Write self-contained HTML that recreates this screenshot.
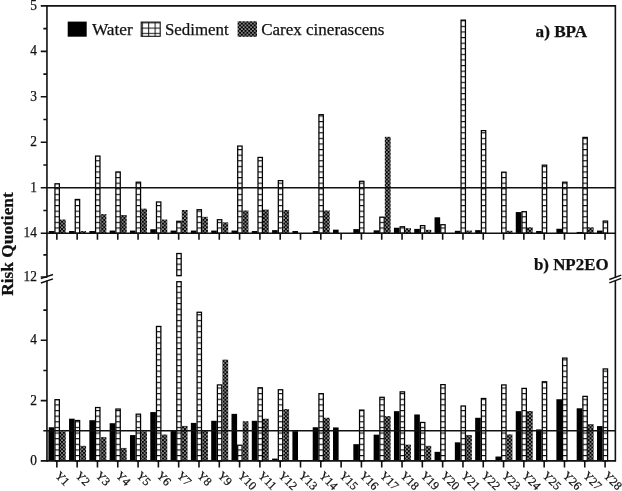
<!DOCTYPE html>
<html><head><meta charset="utf-8"><title>Risk Quotient</title>
<style>html,body{margin:0;padding:0;background:#fff}body{width:622px;height:491px;overflow:hidden}</style></head>
<body>
<svg width="622" height="491" viewBox="0 0 622 491" style="display:block">
<defs>
<pattern id="sedT" patternUnits="userSpaceOnUse" x="0" y="3.42" width="40" height="5.6"><rect width="40" height="5.6" fill="#fff"/><rect y="0" width="40" height="1.15" fill="#111"/></pattern>
<pattern id="sedB" patternUnits="userSpaceOnUse" x="0" y="4.62" width="40" height="5.63"><rect width="40" height="5.63" fill="#fff"/><rect y="0" width="40" height="1.15" fill="#111"/></pattern>
<pattern id="cx" patternUnits="userSpaceOnUse" x="0.55" y="0.6" width="3.67" height="3.67"><rect width="3.67" height="3.67" fill="#000"/><circle cx="0.92" cy="0.92" r="0.78" fill="#fff"/><circle cx="2.75" cy="2.75" r="0.78" fill="#fff"/></pattern>
<pattern id="lgSed" patternUnits="userSpaceOnUse" x="141.8" y="22.4" width="6.4" height="5.2"><rect width="6.4" height="5.2" fill="#fff"/><rect width="6.4" height="1" fill="#111"/><rect width="1" height="5.2" fill="#111"/></pattern>
</defs>
<rect width="622" height="491" fill="#fff"/>
<rect x="47.7" y="431" width="1.3" height="29.5" fill="#888"/>
<rect x="48.75" y="231.04" width="5.60" height="2.16" fill="#000"/>
<rect x="54.95" y="183.79" width="4.40" height="49.41" fill="url(#sedT)" stroke="#000" stroke-width="1.25"/>
<rect x="59.95" y="219.56" width="5.80" height="13.64" fill="url(#cx)"/>
<rect x="69.06" y="231.04" width="5.60" height="2.16" fill="#000"/>
<rect x="75.25" y="199.48" width="4.40" height="33.72" fill="url(#sedT)" stroke="#000" stroke-width="1.25"/>
<rect x="80.25" y="231.04" width="5.80" height="2.16" fill="url(#cx)"/>
<rect x="89.36" y="231.04" width="5.60" height="2.16" fill="#000"/>
<rect x="95.56" y="156.06" width="4.40" height="77.14" fill="url(#sedT)" stroke="#000" stroke-width="1.25"/>
<rect x="100.56" y="214.11" width="5.80" height="19.09" fill="url(#cx)"/>
<rect x="109.66" y="230.58" width="5.60" height="2.62" fill="#000"/>
<rect x="115.86" y="171.97" width="4.40" height="61.23" fill="url(#sedT)" stroke="#000" stroke-width="1.25"/>
<rect x="120.86" y="215.02" width="5.80" height="18.18" fill="url(#cx)"/>
<rect x="129.97" y="230.58" width="5.60" height="2.62" fill="#000"/>
<rect x="136.17" y="182.20" width="4.40" height="51.00" fill="url(#sedT)" stroke="#000" stroke-width="1.25"/>
<rect x="141.17" y="208.65" width="5.80" height="24.55" fill="url(#cx)"/>
<rect x="150.28" y="229.22" width="5.60" height="3.98" fill="#000"/>
<rect x="156.47" y="201.98" width="4.40" height="31.22" fill="url(#sedT)" stroke="#000" stroke-width="1.25"/>
<rect x="161.48" y="219.56" width="5.80" height="13.64" fill="url(#cx)"/>
<rect x="170.58" y="230.58" width="5.60" height="2.62" fill="#000"/>
<rect x="176.78" y="221.30" width="4.40" height="11.90" fill="url(#sedT)" stroke="#000" stroke-width="1.25"/>
<rect x="181.78" y="210.02" width="5.80" height="23.18" fill="url(#cx)"/>
<rect x="190.88" y="230.58" width="5.60" height="2.62" fill="#000"/>
<rect x="197.08" y="209.71" width="4.40" height="23.49" fill="url(#sedT)" stroke="#000" stroke-width="1.25"/>
<rect x="202.09" y="216.83" width="5.80" height="16.37" fill="url(#cx)"/>
<rect x="211.19" y="230.58" width="5.60" height="2.62" fill="#000"/>
<rect x="217.39" y="219.71" width="4.40" height="13.49" fill="url(#sedT)" stroke="#000" stroke-width="1.25"/>
<rect x="222.39" y="222.29" width="5.80" height="10.91" fill="url(#cx)"/>
<rect x="231.50" y="230.58" width="5.60" height="2.62" fill="#000"/>
<rect x="237.69" y="146.06" width="4.40" height="87.14" fill="url(#sedT)" stroke="#000" stroke-width="1.25"/>
<rect x="242.70" y="210.47" width="5.80" height="22.73" fill="url(#cx)"/>
<rect x="251.80" y="231.04" width="5.60" height="2.16" fill="#000"/>
<rect x="258.00" y="157.43" width="4.40" height="75.77" fill="url(#sedT)" stroke="#000" stroke-width="1.25"/>
<rect x="263.00" y="209.56" width="5.80" height="23.64" fill="url(#cx)"/>
<rect x="272.11" y="230.13" width="5.60" height="3.07" fill="#000"/>
<rect x="278.31" y="180.61" width="4.40" height="52.59" fill="url(#sedT)" stroke="#000" stroke-width="1.25"/>
<rect x="283.31" y="210.02" width="5.80" height="23.18" fill="url(#cx)"/>
<rect x="292.41" y="231.04" width="5.60" height="2.16" fill="#000"/>
<rect x="312.72" y="231.04" width="5.60" height="2.16" fill="#000"/>
<rect x="318.92" y="114.69" width="4.40" height="118.51" fill="url(#sedT)" stroke="#000" stroke-width="1.25"/>
<rect x="323.92" y="210.47" width="5.80" height="22.73" fill="url(#cx)"/>
<rect x="333.02" y="229.67" width="5.60" height="3.53" fill="#000"/>
<rect x="353.33" y="229.11" width="5.60" height="4.09" fill="#000"/>
<rect x="359.53" y="181.29" width="4.40" height="51.91" fill="url(#sedT)" stroke="#000" stroke-width="1.25"/>
<rect x="373.63" y="230.35" width="5.60" height="2.85" fill="#000"/>
<rect x="379.83" y="217.16" width="4.40" height="16.04" fill="url(#sedT)" stroke="#000" stroke-width="1.25"/>
<rect x="384.83" y="136.82" width="5.80" height="96.38" fill="url(#cx)"/>
<rect x="393.94" y="227.74" width="5.60" height="5.46" fill="#000"/>
<rect x="400.14" y="226.75" width="4.40" height="6.45" fill="url(#sedT)" stroke="#000" stroke-width="1.25"/>
<rect x="405.14" y="228.20" width="5.80" height="5.00" fill="url(#cx)"/>
<rect x="414.24" y="228.90" width="5.60" height="4.30" fill="#000"/>
<rect x="420.44" y="225.62" width="4.40" height="7.58" fill="url(#sedT)" stroke="#000" stroke-width="1.25"/>
<rect x="425.44" y="229.85" width="5.80" height="3.35" fill="url(#cx)"/>
<rect x="434.55" y="217.29" width="5.60" height="15.91" fill="#000"/>
<rect x="440.75" y="224.71" width="4.40" height="8.49" fill="url(#sedT)" stroke="#000" stroke-width="1.25"/>
<rect x="454.85" y="230.81" width="5.60" height="2.39" fill="#000"/>
<rect x="461.05" y="20.14" width="4.40" height="213.06" fill="url(#sedT)" stroke="#000" stroke-width="1.25"/>
<rect x="466.05" y="230.58" width="5.80" height="2.62" fill="url(#cx)"/>
<rect x="475.16" y="230.13" width="5.60" height="3.07" fill="#000"/>
<rect x="481.36" y="130.61" width="4.40" height="102.59" fill="url(#sedT)" stroke="#000" stroke-width="1.25"/>
<rect x="501.66" y="172.20" width="4.40" height="61.00" fill="url(#sedT)" stroke="#000" stroke-width="1.25"/>
<rect x="506.66" y="230.81" width="5.80" height="2.39" fill="url(#cx)"/>
<rect x="515.76" y="212.06" width="5.60" height="21.14" fill="#000"/>
<rect x="521.97" y="211.71" width="4.40" height="21.49" fill="url(#sedT)" stroke="#000" stroke-width="1.25"/>
<rect x="526.96" y="227.29" width="5.80" height="5.91" fill="url(#cx)"/>
<rect x="536.07" y="231.04" width="5.60" height="2.16" fill="#000"/>
<rect x="542.27" y="165.16" width="4.40" height="68.04" fill="url(#sedT)" stroke="#000" stroke-width="1.25"/>
<rect x="556.38" y="228.76" width="5.60" height="4.44" fill="#000"/>
<rect x="562.58" y="182.20" width="4.40" height="51.00" fill="url(#sedT)" stroke="#000" stroke-width="1.25"/>
<rect x="576.68" y="231.95" width="5.60" height="1.25" fill="#000"/>
<rect x="582.88" y="137.42" width="4.40" height="95.78" fill="url(#sedT)" stroke="#000" stroke-width="1.25"/>
<rect x="587.88" y="227.29" width="5.80" height="5.91" fill="url(#cx)"/>
<rect x="596.99" y="230.58" width="5.60" height="2.62" fill="#000"/>
<rect x="603.19" y="221.07" width="4.40" height="12.13" fill="url(#sedT)" stroke="#000" stroke-width="1.25"/>
<rect x="48.75" y="427.25" width="5.60" height="33.65" fill="#000"/>
<rect x="54.95" y="399.69" width="4.40" height="61.21" fill="url(#sedB)" stroke="#000" stroke-width="1.25"/>
<rect x="59.95" y="431.35" width="5.80" height="29.55" fill="url(#cx)"/>
<rect x="69.06" y="418.69" width="5.60" height="42.21" fill="#000"/>
<rect x="75.25" y="420.50" width="4.40" height="40.40" fill="url(#sedB)" stroke="#000" stroke-width="1.25"/>
<rect x="80.25" y="445.82" width="5.80" height="15.07" fill="url(#cx)"/>
<rect x="89.36" y="420.20" width="5.60" height="40.70" fill="#000"/>
<rect x="95.56" y="407.53" width="4.40" height="53.37" fill="url(#sedB)" stroke="#000" stroke-width="1.25"/>
<rect x="100.56" y="437.08" width="5.80" height="23.82" fill="url(#cx)"/>
<rect x="109.66" y="423.21" width="5.60" height="37.69" fill="#000"/>
<rect x="115.86" y="409.04" width="4.40" height="51.86" fill="url(#sedB)" stroke="#000" stroke-width="1.25"/>
<rect x="120.86" y="447.94" width="5.80" height="12.96" fill="url(#cx)"/>
<rect x="129.97" y="435.09" width="5.60" height="25.81" fill="#000"/>
<rect x="136.17" y="414.16" width="4.40" height="46.74" fill="url(#sedB)" stroke="#000" stroke-width="1.25"/>
<rect x="141.17" y="431.35" width="5.80" height="29.55" fill="url(#cx)"/>
<rect x="150.28" y="412.06" width="5.60" height="48.84" fill="#000"/>
<rect x="156.47" y="326.43" width="4.40" height="134.47" fill="url(#sedB)" stroke="#000" stroke-width="1.25"/>
<rect x="161.48" y="434.52" width="5.80" height="26.38" fill="url(#cx)"/>
<rect x="170.58" y="431.05" width="5.60" height="29.85" fill="#000"/>
<rect x="176.78" y="281.70" width="4.40" height="179.20" fill="url(#sedB)" stroke="#000" stroke-width="1.25"/>
<rect x="176.78" y="253.51" width="4.40" height="22.19" fill="url(#sedB)" stroke="#000" stroke-width="1.25"/>
<rect x="181.78" y="425.93" width="5.80" height="34.97" fill="url(#cx)"/>
<rect x="190.88" y="422.91" width="5.60" height="37.99" fill="#000"/>
<rect x="197.08" y="312.26" width="4.40" height="148.64" fill="url(#sedB)" stroke="#000" stroke-width="1.25"/>
<rect x="202.09" y="430.15" width="5.80" height="30.75" fill="url(#cx)"/>
<rect x="211.19" y="420.80" width="5.60" height="40.10" fill="#000"/>
<rect x="217.39" y="384.92" width="4.40" height="75.98" fill="url(#sedB)" stroke="#000" stroke-width="1.25"/>
<rect x="222.39" y="359.60" width="5.80" height="101.30" fill="url(#cx)"/>
<rect x="231.50" y="413.87" width="5.60" height="47.03" fill="#000"/>
<rect x="237.69" y="445.22" width="4.40" height="15.68" fill="url(#sedB)" stroke="#000" stroke-width="1.25"/>
<rect x="242.70" y="421.25" width="5.80" height="39.65" fill="url(#cx)"/>
<rect x="251.80" y="420.80" width="5.60" height="40.10" fill="#000"/>
<rect x="258.00" y="387.78" width="4.40" height="73.12" fill="url(#sedB)" stroke="#000" stroke-width="1.25"/>
<rect x="263.00" y="418.69" width="5.80" height="42.21" fill="url(#cx)"/>
<rect x="272.11" y="458.59" width="5.60" height="2.31" fill="#000"/>
<rect x="278.31" y="389.74" width="4.40" height="71.16" fill="url(#sedB)" stroke="#000" stroke-width="1.25"/>
<rect x="283.31" y="409.04" width="5.80" height="51.86" fill="url(#cx)"/>
<rect x="292.41" y="431.17" width="5.60" height="29.73" fill="#000"/>
<rect x="312.72" y="427.25" width="5.60" height="33.65" fill="#000"/>
<rect x="318.92" y="393.66" width="4.40" height="67.24" fill="url(#sedB)" stroke="#000" stroke-width="1.25"/>
<rect x="323.92" y="417.79" width="5.80" height="43.11" fill="url(#cx)"/>
<rect x="333.02" y="427.43" width="5.60" height="33.47" fill="#000"/>
<rect x="353.33" y="444.17" width="5.60" height="16.73" fill="#000"/>
<rect x="359.53" y="410.09" width="4.40" height="50.81" fill="url(#sedB)" stroke="#000" stroke-width="1.25"/>
<rect x="373.63" y="434.67" width="5.60" height="26.23" fill="#000"/>
<rect x="379.83" y="397.28" width="4.40" height="63.62" fill="url(#sedB)" stroke="#000" stroke-width="1.25"/>
<rect x="384.83" y="416.10" width="5.80" height="44.80" fill="url(#cx)"/>
<rect x="393.94" y="411.15" width="5.60" height="49.75" fill="#000"/>
<rect x="400.14" y="391.85" width="4.40" height="69.05" fill="url(#sedB)" stroke="#000" stroke-width="1.25"/>
<rect x="405.14" y="444.62" width="5.80" height="16.28" fill="url(#cx)"/>
<rect x="414.24" y="414.47" width="5.60" height="46.43" fill="#000"/>
<rect x="420.44" y="422.46" width="4.40" height="38.44" fill="url(#sedB)" stroke="#000" stroke-width="1.25"/>
<rect x="425.44" y="445.82" width="5.80" height="15.07" fill="url(#cx)"/>
<rect x="434.55" y="451.85" width="5.60" height="9.04" fill="#000"/>
<rect x="440.75" y="384.62" width="4.40" height="76.28" fill="url(#sedB)" stroke="#000" stroke-width="1.25"/>
<rect x="454.85" y="442.33" width="5.60" height="18.57" fill="#000"/>
<rect x="461.05" y="406.02" width="4.40" height="54.88" fill="url(#sedB)" stroke="#000" stroke-width="1.25"/>
<rect x="466.05" y="434.97" width="5.80" height="25.93" fill="url(#cx)"/>
<rect x="475.16" y="417.79" width="5.60" height="43.11" fill="#000"/>
<rect x="481.36" y="398.49" width="4.40" height="62.41" fill="url(#sedB)" stroke="#000" stroke-width="1.25"/>
<rect x="495.46" y="456.53" width="5.60" height="4.37" fill="#000"/>
<rect x="501.66" y="384.92" width="4.40" height="75.98" fill="url(#sedB)" stroke="#000" stroke-width="1.25"/>
<rect x="506.66" y="434.37" width="5.80" height="26.53" fill="url(#cx)"/>
<rect x="515.76" y="411.15" width="5.60" height="49.75" fill="#000"/>
<rect x="521.97" y="388.39" width="4.40" height="72.51" fill="url(#sedB)" stroke="#000" stroke-width="1.25"/>
<rect x="526.96" y="411.00" width="5.80" height="49.90" fill="url(#cx)"/>
<rect x="536.07" y="429.39" width="5.60" height="31.51" fill="#000"/>
<rect x="542.27" y="381.75" width="4.40" height="79.15" fill="url(#sedB)" stroke="#000" stroke-width="1.25"/>
<rect x="556.38" y="399.24" width="5.60" height="61.66" fill="#000"/>
<rect x="562.58" y="358.09" width="4.40" height="102.81" fill="url(#sedB)" stroke="#000" stroke-width="1.25"/>
<rect x="576.68" y="408.29" width="5.60" height="52.61" fill="#000"/>
<rect x="582.88" y="396.38" width="4.40" height="64.52" fill="url(#sedB)" stroke="#000" stroke-width="1.25"/>
<rect x="587.88" y="424.12" width="5.80" height="36.78" fill="url(#cx)"/>
<rect x="596.99" y="426.08" width="5.60" height="34.82" fill="#000"/>
<rect x="603.19" y="368.94" width="4.40" height="91.96" fill="url(#sedB)" stroke="#000" stroke-width="1.25"/>
<path d="M46.95 5.9 H615.37" stroke="#111" stroke-width="1.6" fill="none"/>
<path d="M46.95 5.1000000000000005 V277.6 M46.95 280.6 V461.7" stroke="#111" stroke-width="1.6" fill="none"/>
<path d="M615.37 5.1000000000000005 V277.6 M615.37 280.8 V461.7" stroke="#111" stroke-width="1.6" fill="none"/>
<path d="M46.95 233.2 H615.37" stroke="#111" stroke-width="1.6" fill="none"/>
<path d="M46.95 460.9 H615.37" stroke="#111" stroke-width="1.6" fill="none"/>
<path d="M46.95 187.74 H615.37" stroke="#111" stroke-width="1.5"/>
<path d="M46.95 430.75 H615.37" stroke="#111" stroke-width="1.5"/>
<path d="M40.75 233.20 H46.95 M43.35 210.47 H46.95 M40.75 187.74 H46.95 M43.35 165.01 H46.95 M40.75 142.28 H46.95 M43.35 119.55 H46.95 M40.75 96.82 H46.95 M43.35 74.09 H46.95 M40.75 51.36 H46.95 M43.35 28.63 H46.95 M40.75 5.90 H46.95 M40.75 460.90 H46.95 M43.35 430.75 H46.95 M40.75 400.60 H46.95 M43.35 370.45 H46.95 M40.75 340.30 H46.95 M43.35 310.15 H46.95 M40.75 277.0 H46.95 M43.35 254.9 H46.95 " stroke="#111" stroke-width="1.6" fill="none"/>
<path d="M40.9 278.6 L53 274.5 M40.9 283.0 L53 278.9 M609.3 279.5 L621.3 275.1 M609.3 282.9 L621.3 278.4" stroke="#111" stroke-width="1.5" fill="none"/>
<path d="M56.85 233.2 v6.6 M56.85 460.9 v6.6 M77.16 233.2 v6.6 M77.16 460.9 v6.6 M97.46 233.2 v6.6 M97.46 460.9 v6.6 M117.77 233.2 v6.6 M117.77 460.9 v6.6 M138.07 233.2 v6.6 M138.07 460.9 v6.6 M158.38 233.2 v6.6 M158.38 460.9 v6.6 M178.68 233.2 v6.6 M178.68 460.9 v6.6 M198.98 233.2 v6.6 M198.98 460.9 v6.6 M219.29 233.2 v6.6 M219.29 460.9 v6.6 M239.59 233.2 v6.6 M239.59 460.9 v6.6 M259.90 233.2 v6.6 M259.90 460.9 v6.6 M280.20 233.2 v6.6 M280.20 460.9 v6.6 M300.51 233.2 v6.6 M300.51 460.9 v6.6 M320.81 233.2 v6.6 M320.81 460.9 v6.6 M341.12 233.2 v6.6 M341.12 460.9 v6.6 M361.43 233.2 v6.6 M361.43 460.9 v6.6 M381.73 233.2 v6.6 M381.73 460.9 v6.6 M402.04 233.2 v6.6 M402.04 460.9 v6.6 M422.34 233.2 v6.6 M422.34 460.9 v6.6 M442.65 233.2 v6.6 M442.65 460.9 v6.6 M462.95 233.2 v6.6 M462.95 460.9 v6.6 M483.25 233.2 v6.6 M483.25 460.9 v6.6 M503.56 233.2 v6.6 M503.56 460.9 v6.6 M523.87 233.2 v6.6 M523.87 460.9 v6.6 M544.17 233.2 v6.6 M544.17 460.9 v6.6 M564.48 233.2 v6.6 M564.48 460.9 v6.6 M584.78 233.2 v6.6 M584.78 460.9 v6.6 M605.09 233.2 v6.6 M605.09 460.9 v6.6 " stroke="#111" stroke-width="1.6" fill="none"/>
<text x="30.21" y="9.80" font-size="14" textLength="6.68" lengthAdjust="spacingAndGlyphs" font-family="'Liberation Serif', 'Times New Roman', serif" stroke="#111" stroke-width="0.25" fill="#111">5</text>
<text x="30.21" y="55.26" font-size="14" textLength="6.68" lengthAdjust="spacingAndGlyphs" font-family="'Liberation Serif', 'Times New Roman', serif" stroke="#111" stroke-width="0.25" fill="#111">4</text>
<text x="30.21" y="100.72" font-size="14" textLength="6.68" lengthAdjust="spacingAndGlyphs" font-family="'Liberation Serif', 'Times New Roman', serif" stroke="#111" stroke-width="0.25" fill="#111">3</text>
<text x="30.21" y="146.18" font-size="14" textLength="6.68" lengthAdjust="spacingAndGlyphs" font-family="'Liberation Serif', 'Times New Roman', serif" stroke="#111" stroke-width="0.25" fill="#111">2</text>
<text x="30.21" y="191.64" font-size="14" textLength="6.68" lengthAdjust="spacingAndGlyphs" font-family="'Liberation Serif', 'Times New Roman', serif" stroke="#111" stroke-width="0.25" fill="#111">1</text>
<text x="23.53" y="237.10" font-size="14" textLength="13.37" lengthAdjust="spacingAndGlyphs" font-family="'Liberation Serif', 'Times New Roman', serif" stroke="#111" stroke-width="0.25" fill="#111">14</text>
<text x="23.53" y="280.90" font-size="14" textLength="13.37" lengthAdjust="spacingAndGlyphs" font-family="'Liberation Serif', 'Times New Roman', serif" stroke="#111" stroke-width="0.25" fill="#111">12</text>
<text x="30.21" y="344.20" font-size="14" textLength="6.68" lengthAdjust="spacingAndGlyphs" font-family="'Liberation Serif', 'Times New Roman', serif" stroke="#111" stroke-width="0.25" fill="#111">4</text>
<text x="30.21" y="404.50" font-size="14" textLength="6.68" lengthAdjust="spacingAndGlyphs" font-family="'Liberation Serif', 'Times New Roman', serif" stroke="#111" stroke-width="0.25" fill="#111">2</text>
<text x="30.21" y="464.80" font-size="14" textLength="6.68" lengthAdjust="spacingAndGlyphs" font-family="'Liberation Serif', 'Times New Roman', serif" stroke="#111" stroke-width="0.25" fill="#111">0</text>
<text transform="translate(54.45 476.2) rotate(45)" font-size="12" font-family="'Liberation Serif', 'Times New Roman', serif" stroke="#111" stroke-width="0.25" fill="#111">Y1</text>
<text transform="translate(74.75 476.2) rotate(45)" font-size="12" font-family="'Liberation Serif', 'Times New Roman', serif" stroke="#111" stroke-width="0.25" fill="#111">Y2</text>
<text transform="translate(95.06 476.2) rotate(45)" font-size="12" font-family="'Liberation Serif', 'Times New Roman', serif" stroke="#111" stroke-width="0.25" fill="#111">Y3</text>
<text transform="translate(115.36 476.2) rotate(45)" font-size="12" font-family="'Liberation Serif', 'Times New Roman', serif" stroke="#111" stroke-width="0.25" fill="#111">Y4</text>
<text transform="translate(135.67 476.2) rotate(45)" font-size="12" font-family="'Liberation Serif', 'Times New Roman', serif" stroke="#111" stroke-width="0.25" fill="#111">Y5</text>
<text transform="translate(155.97 476.2) rotate(45)" font-size="12" font-family="'Liberation Serif', 'Times New Roman', serif" stroke="#111" stroke-width="0.25" fill="#111">Y6</text>
<text transform="translate(176.28 476.2) rotate(45)" font-size="12" font-family="'Liberation Serif', 'Times New Roman', serif" stroke="#111" stroke-width="0.25" fill="#111">Y7</text>
<text transform="translate(196.58 476.2) rotate(45)" font-size="12" font-family="'Liberation Serif', 'Times New Roman', serif" stroke="#111" stroke-width="0.25" fill="#111">Y8</text>
<text transform="translate(216.89 476.2) rotate(45)" font-size="12" font-family="'Liberation Serif', 'Times New Roman', serif" stroke="#111" stroke-width="0.25" fill="#111">Y9</text>
<text transform="translate(237.19 476.2) rotate(45)" font-size="12" font-family="'Liberation Serif', 'Times New Roman', serif" stroke="#111" stroke-width="0.25" fill="#111">Y10</text>
<text transform="translate(257.50 476.2) rotate(45)" font-size="12" font-family="'Liberation Serif', 'Times New Roman', serif" stroke="#111" stroke-width="0.25" fill="#111">Y11</text>
<text transform="translate(277.81 476.2) rotate(45)" font-size="12" font-family="'Liberation Serif', 'Times New Roman', serif" stroke="#111" stroke-width="0.25" fill="#111">Y12</text>
<text transform="translate(298.11 476.2) rotate(45)" font-size="12" font-family="'Liberation Serif', 'Times New Roman', serif" stroke="#111" stroke-width="0.25" fill="#111">Y13</text>
<text transform="translate(318.42 476.2) rotate(45)" font-size="12" font-family="'Liberation Serif', 'Times New Roman', serif" stroke="#111" stroke-width="0.25" fill="#111">Y14</text>
<text transform="translate(338.72 476.2) rotate(45)" font-size="12" font-family="'Liberation Serif', 'Times New Roman', serif" stroke="#111" stroke-width="0.25" fill="#111">Y15</text>
<text transform="translate(359.03 476.2) rotate(45)" font-size="12" font-family="'Liberation Serif', 'Times New Roman', serif" stroke="#111" stroke-width="0.25" fill="#111">Y16</text>
<text transform="translate(379.33 476.2) rotate(45)" font-size="12" font-family="'Liberation Serif', 'Times New Roman', serif" stroke="#111" stroke-width="0.25" fill="#111">Y17</text>
<text transform="translate(399.64 476.2) rotate(45)" font-size="12" font-family="'Liberation Serif', 'Times New Roman', serif" stroke="#111" stroke-width="0.25" fill="#111">Y18</text>
<text transform="translate(419.94 476.2) rotate(45)" font-size="12" font-family="'Liberation Serif', 'Times New Roman', serif" stroke="#111" stroke-width="0.25" fill="#111">Y19</text>
<text transform="translate(440.25 476.2) rotate(45)" font-size="12" font-family="'Liberation Serif', 'Times New Roman', serif" stroke="#111" stroke-width="0.25" fill="#111">Y20</text>
<text transform="translate(460.55 476.2) rotate(45)" font-size="12" font-family="'Liberation Serif', 'Times New Roman', serif" stroke="#111" stroke-width="0.25" fill="#111">Y21</text>
<text transform="translate(480.86 476.2) rotate(45)" font-size="12" font-family="'Liberation Serif', 'Times New Roman', serif" stroke="#111" stroke-width="0.25" fill="#111">Y22</text>
<text transform="translate(501.16 476.2) rotate(45)" font-size="12" font-family="'Liberation Serif', 'Times New Roman', serif" stroke="#111" stroke-width="0.25" fill="#111">Y23</text>
<text transform="translate(521.47 476.2) rotate(45)" font-size="12" font-family="'Liberation Serif', 'Times New Roman', serif" stroke="#111" stroke-width="0.25" fill="#111">Y24</text>
<text transform="translate(541.77 476.2) rotate(45)" font-size="12" font-family="'Liberation Serif', 'Times New Roman', serif" stroke="#111" stroke-width="0.25" fill="#111">Y25</text>
<text transform="translate(562.08 476.2) rotate(45)" font-size="12" font-family="'Liberation Serif', 'Times New Roman', serif" stroke="#111" stroke-width="0.25" fill="#111">Y26</text>
<text transform="translate(582.38 476.2) rotate(45)" font-size="12" font-family="'Liberation Serif', 'Times New Roman', serif" stroke="#111" stroke-width="0.25" fill="#111">Y27</text>
<text transform="translate(602.69 476.2) rotate(45)" font-size="12" font-family="'Liberation Serif', 'Times New Roman', serif" stroke="#111" stroke-width="0.25" fill="#111">Y28</text>
<text transform="translate(12.9 244) rotate(-90)" text-anchor="middle" font-size="17" font-weight="bold" textLength="103.4" lengthAdjust="spacingAndGlyphs" font-family="'Liberation Serif', 'Times New Roman', serif" stroke="#111" stroke-width="0.25" fill="#111">Risk Quotient</text>
<rect x="67.7" y="21.6" width="19" height="15.1" fill="#000"/>
<rect x="141.2" y="22.1" width="19" height="14.2" fill="url(#lgSed)" stroke="#111" stroke-width="1.1"/>
<rect x="237.6" y="21.3" width="19.4" height="15.5" fill="url(#cx)"/>
<text x="91.9" y="34.6" font-size="16.6" textLength="40.9" lengthAdjust="spacingAndGlyphs" font-family="'Liberation Serif', 'Times New Roman', serif" stroke="#111" stroke-width="0.25" fill="#111">Water</text>
<text x="164.9" y="34.6" font-size="16.6" textLength="63.8" lengthAdjust="spacingAndGlyphs" font-family="'Liberation Serif', 'Times New Roman', serif" stroke="#111" stroke-width="0.25" fill="#111">Sediment</text>
<text x="261.2" y="34.6" font-size="16.6" textLength="123.3" lengthAdjust="spacingAndGlyphs" font-family="'Liberation Serif', 'Times New Roman', serif" stroke="#111" stroke-width="0.25" fill="#111">Carex cinerascens</text>
<text x="535.6" y="36.5" font-size="16" font-weight="bold" textLength="51.6" lengthAdjust="spacingAndGlyphs" font-family="'Liberation Serif', 'Times New Roman', serif" stroke="#111" stroke-width="0.25" fill="#111">a) BPA</text>
<text x="533.9" y="269.5" font-size="16.4" font-weight="bold" textLength="74.7" lengthAdjust="spacingAndGlyphs" font-family="'Liberation Serif', 'Times New Roman', serif" stroke="#111" stroke-width="0.25" fill="#111">b) NP2EO</text>
</svg>
</body></html>
